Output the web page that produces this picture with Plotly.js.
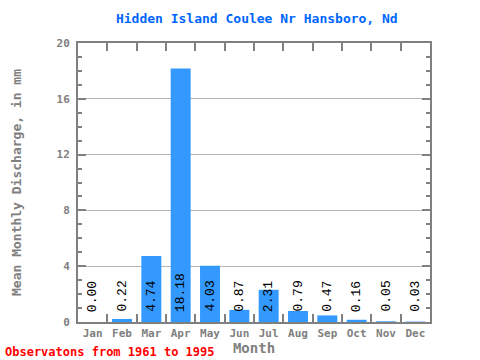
<!DOCTYPE html>
<html><head><meta charset="utf-8">
<script src="https://cdn.plot.ly/plotly-3.0.1.min.js"></script>
<style>html,body{margin:0;padding:0;background:#fff}</style>
</head><body>
<div id="chart" style="width:480px;height:360px"></div>
<script>
const months = ["Jan","Feb","Mar","Apr","May","Jun","Jul","Aug","Sep","Oct","Nov","Dec"];
const discharge = [0.00,0.22,4.74,18.18,4.03,0.87,2.31,0.79,0.47,0.16,0.05,0.03];
const labels = ["0.00","0.22","4.74","18.18","4.03","0.87","2.31","0.79","0.47","0.16","0.05","0.03"];
const yTicks = [0,4,8,12,16,20];

const mono = "DejaVu Sans Mono, monospace";
const axisGray = "#808080";

const annotations = months.map((m,i)=>({
  x: m, y: 0, xref:'x', yref:'y', text: labels[i], showarrow:false,
  textangle:-90, yanchor:'bottom', xanchor:'center', yshift:8,
  font:{family:"Liberation Mono, monospace", size:13, color:'#000'}
}));
annotations.push({
  xref:'paper', yref:'paper', x:-0.2137, y:-0.1075, xanchor:'left', yanchor:'middle',
  text:'Observatons from 1961 to 1995', showarrow:false,
  font:{family:mono, size:12, color:'#ff0000', weight:'bold'}
});

Plotly.newPlot('chart',[{
  type:'bar', x:months, y:discharge, width:0.68,
  marker:{color:'#3399ff', line:{width:0}}, hoverinfo:'none'
}],{
  width:480, height:360,
  margin:{l:78,r:50,t:43,b:38,pad:0},
  paper_bgcolor:'#fff', plot_bgcolor:'#fff',
  showlegend:false,
  title:{text:'Hidden Island Coulee Nr Hansboro, Nd', x:0.535, xanchor:'center', y:0.95, yanchor:'middle',
    font:{family:mono, size:13, color:'#0066ff', weight:'bold'}},
  xaxis:{
    type:'category', range:[-0.5,11.5], fixedrange:true,
    showline:true, linecolor:axisGray, linewidth:2, mirror:'ticks',
    ticks:'inside', tickson:'boundaries', ticklen:8, tickwidth:2, tickcolor:axisGray,
    showgrid:false, zeroline:false, tickangle:0,
    tickfont:{family:mono, size:11, color:axisGray, weight:'bold'},
    title:{text:'Month', standoff:2, font:{family:mono, size:14, color:axisGray, weight:'bold'}}
  },
  yaxis:{
    range:[0,20], fixedrange:true, tickvals:yTicks, ticktext:yTicks.map(String),
    showline:true, linecolor:axisGray, linewidth:2, mirror:'ticks',
    ticks:'inside', ticklen:8, tickwidth:2, tickcolor:axisGray,
    ticklabelstandoff:4,
    minor:{dtick:1, tick0:0, ticks:'inside', ticklen:4, tickwidth:2, tickcolor:axisGray, showgrid:false},
    showgrid:true, gridcolor:'#b4b4b4', gridwidth:1, zeroline:false,
    tickfont:{family:mono, size:11, color:axisGray, weight:'bold'},
    title:{text:'Mean Monthly Discharge, in mm', standoff:32, font:{family:mono, size:13, color:axisGray, weight:'bold'}}
  },
  annotations:annotations,
  bargap:0.32
},{staticPlot:true, displayModeBar:false});
</script>
</body></html>
